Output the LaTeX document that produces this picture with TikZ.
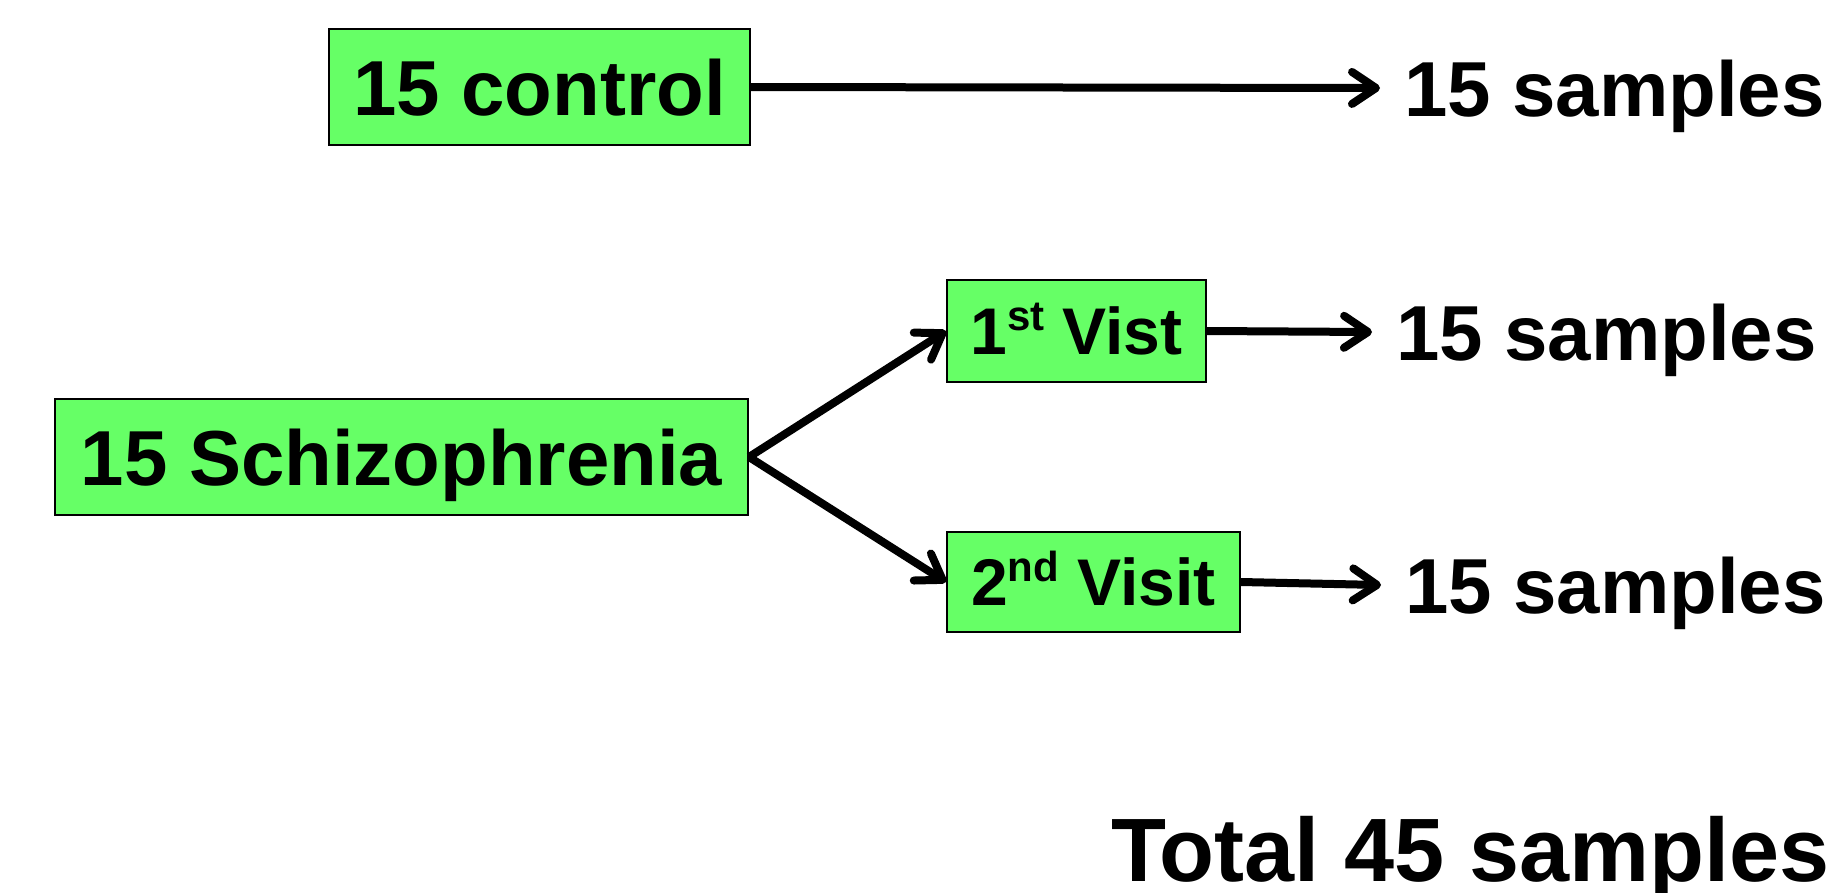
\documentclass[tikz,border=0pt]{standalone}
\usepackage{fontspec}
\setmainfont{Liberation Sans}
\usetikzlibrary{arrows.meta}
\definecolor{boxgreen}{RGB}{102,255,102}
\begin{document}
\begin{tikzpicture}[x=1pt,y=-1pt,
  box/.style={draw=black, line width=2pt, fill=boxgreen, inner sep=0pt, text height=56pt, text depth=0pt,
    font=\bfseries\fontsize{78}{78}\selectfont},
  vbox/.style={draw=black, line width=2pt, fill=boxgreen, inner sep=0pt, text height=47pt, text depth=0pt,
    font=\bfseries\fontsize{66}{66}\selectfont},
  samp/.style={anchor=west, inner xsep=24pt, inner ysep=0pt, text height=56pt, text depth=0pt,
    font=\bfseries\fontsize{78}{78}\selectfont},
  conn/.style={line width=8pt, -{Straight Barb[length=24pt,width=32pt,line cap=round,line join=round]}}
]
\useasboundingbox (0,0) rectangle (1842,892);
\newcommand{\supx}[1]{\raisebox{24pt}{\fontsize{42}{42}\selectfont #1}}

\node[box, minimum width=421pt, minimum height=116pt] (ctrl) at (539.5,87) {15 control};
\node[box, minimum width=693pt, minimum height=116pt] (schizo) at (401.5,457) {15 Schizophrenia};
\node[vbox, minimum width=259pt, minimum height=102pt] (v1) at (1076.5,331) {1\supx{st} Vist};
\node[vbox, minimum width=293pt, minimum height=100pt] (v2) at (1093.5,582) {2\supx{nd} Visit};

\node[samp] (s1) at (1380,88) {15 samples};
\node[samp] (s2) at (1372,332) {15 samples};
\node[samp] (s3) at (1381,585) {15 samples};

\node[anchor=base east, inner sep=0pt, font=\bfseries\fontsize{90}{90}\selectfont] (total) at (1830,881) {Total 45 samples};

\draw[conn] (ctrl.east) -- (s1.west);
\draw[conn] (schizo.east) -- (v1.west);
\draw[conn] (schizo.east) -- (v2.west);
\draw[conn] (v1.east) -- (s2.west);
\draw[conn] (v2.east) -- (s3.west);
\end{tikzpicture}
\end{document}
